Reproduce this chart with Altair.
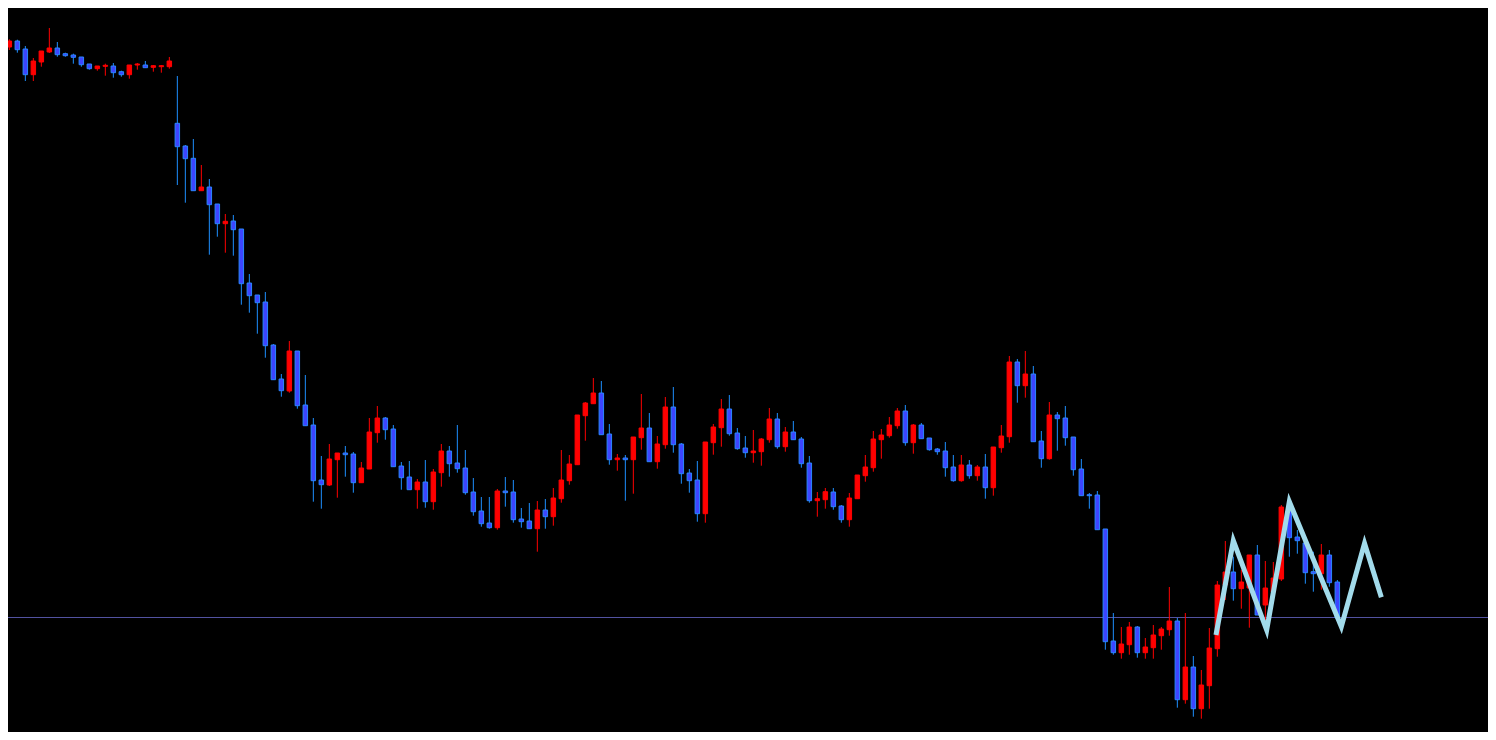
import altair as alt
import pandas as pd

# Candle data (price units)
opens = [706, 693, 699, 691, 665.3, 678, 688, 692, 686.3, 685, 683, 676, 671.3, 673.7, 674, 668.3, 665.3, 675, 675, 672.7,
         673.3, 673.3, 616.7, 594, 581.7, 549.3, 553, 536, 516.3, 519, 511, 457, 445, 438, 395, 361, 349, 389, 335, 315,
         260, 255, 280.3, 287, 286, 257.3, 271, 307.3, 322, 311, 274, 263, 250.3, 258, 238.3, 267.3, 289, 277, 272, 248,
         229, 217, 212.3, 249, 248, 221, 219, 211.3, 230, 223.3, 241.3, 259.3, 275.3, 324.3, 336.3, 347, 306, 280.3, 282, 280.3,
         302.3, 312, 278.3, 295.3, 333, 296, 267, 260, 226.3, 297.3, 312.3, 331, 307, 292, 287.3, 288.3, 300.3, 321, 293.3, 308,
         301, 277, 239.3, 240.3, 248, 234, 220.3, 241.3, 264.3, 272.3, 300.3, 304.3, 314.3, 329, 297.3, 315, 302, 291, 289, 273,
         259.3, 275, 264.3, 273, 252.3, 292.3, 303.3, 378, 354.3, 366, 299, 281.3, 325, 322, 303, 271, 245.3, 245, 211, 99,
         87.3, 95.3, 113, 87.3, 92.3, 104.3, 110.3, 119, 40.3, 73, 31.3, 54.3, 91.3, 155, 168, 151.3, 152, 185, 135, 148,
         161, 229, 203, 197, 168.3, 166.3, 185, 158]
highs = [708, 700.7, 700.3, 694, 682, 689, 712, 698, 687.3, 686.3, 683, 676, 674, 676.3, 677, 669.3, 675, 677, 679, 675,
         675, 683, 664, 595, 601, 575, 561, 536, 526, 525, 511, 466, 445, 448, 396, 366, 399, 389, 365, 322,
         284, 296, 287, 294, 288, 278, 322, 334, 323, 315, 278, 279, 261, 280, 271, 296, 294, 315, 290, 262,
         243, 243, 251, 263, 260, 232, 237, 239, 241, 252, 290, 285, 325, 338, 362, 359, 316, 286, 285, 303,
         346, 327, 304, 343, 353, 297, 271, 279, 298, 316, 341, 345, 312, 304, 310, 302, 332, 327, 313, 319,
         303, 284, 248, 252, 252, 235, 247, 265, 285, 309, 311, 323, 332, 335, 316, 317, 302, 292, 298, 285,
         285, 280, 275, 286, 293, 315, 384, 381, 389, 374, 309, 338, 328, 334, 303, 281, 247, 249, 211, 127,
         113, 118, 114, 102, 115, 113, 153, 122, 127, 84, 70, 112, 159, 199, 183.3, 170, 185, 195, 179, 178,
         235, 229, 210, 200, 188.3, 196, 190, 160]
lows = [690, 690, 687.3, 659, 659, 673.3, 687, 683.3, 683.3, 676.3, 673.3, 670.3, 669.3, 664.3, 662.3, 663.3, 661.3, 670.3, 672.3, 668.3,
        667.3, 671.3, 555, 537.3, 549.3, 549.3, 485.3, 503.3, 487.3, 484.3, 435.3, 427.3, 406.3, 382.3, 360.3, 343.3, 347.3, 331.3, 314.3, 238.3,
        231.3, 254, 242.3, 263.3, 247.3, 257.3, 271, 297.3, 300.3, 273.3, 250.3, 250.3, 231.3, 232.3, 230.3, 253.3, 263.3, 267.3, 245.3, 224.3,
        213.3, 211.3, 210.3, 233.3, 217.3, 212.3, 211.3, 188.3, 211.3, 214.3, 237.3, 255.3, 275.3, 299.3, 336.3, 305.3, 275.3, 269.3, 239.3, 246.3,
        290.3, 278.3, 271.3, 291.3, 287.3, 256.3, 247.3, 218.3, 217.3, 285.3, 293.3, 304.3, 290.3, 282.3, 277.3, 274.3, 297.3, 291.3, 288.3, 300.3,
        272.3, 237.3, 223.3, 231.3, 230.3, 217.3, 213.3, 241.3, 258.3, 268.3, 281.3, 302.3, 311.3, 294.3, 286.3, 301.3, 289.3, 285.3, 263.3, 258.3,
        258.3, 261.3, 259.3, 241.3, 244.3, 287.3, 297.3, 337.3, 342.3, 298.3, 272.3, 280.3, 289.3, 294.3, 264.3, 244.3, 231.3, 210.3, 90.3, 85.3,
        81.3, 85.3, 82.3, 81.3, 81.3, 90.3, 104.3, 32.3, 36.3, 23.3, 21.3, 31.3, 83.3, 140, 139.3, 131.3, 112.3, 125, 120, 145,
        159, 183.3, 186.3, 156.3, 148.3, 150.3, 153.3, 120]
closes = [693.3, 699, 690.3, 665.3, 679, 689, 692, 685.3, 684.3, 682.7, 675.3, 671.3, 674, 674.7, 667.3, 665.3, 675, 676, 672.3, 674.3,
          674.3, 679, 593.3, 581.3, 549.3, 553, 535.3, 516.3, 518.7, 510.3, 456.3, 444.3, 437.3, 394.3, 360.3, 349.3, 389, 334.3, 314.3, 259.3,
          255.3, 281, 287, 285.3, 257.3, 272, 308, 322, 310.3, 273.3, 262.3, 250.3, 258, 238.3, 268, 289, 276.3, 271.3, 247.3, 228.3,
          216.3, 212.3, 249, 247.3, 220.3, 218.3, 211.3, 230, 223.3, 242, 260, 276, 325, 337, 347, 305.3, 280.3, 282, 280.3, 303,
          312, 278.3, 296, 333, 295.3, 266.3, 259.3, 226.3, 298, 313, 331, 306.3, 291.3, 287.3, 289, 301, 321, 293.3, 308, 300.3,
          276.3, 239.3, 241.3, 248.3, 233.3, 220.3, 242, 265, 273, 301, 305, 315, 329, 297.3, 315, 301.3, 290.3, 288.3, 272.3, 259.3,
          275, 264.3, 273, 252.3, 293, 304, 378, 354.3, 366, 298.3, 281.3, 325, 321.3, 302.3, 270.3, 244.3, 244.3, 210.3, 98.3, 87.3,
          96, 113, 87.3, 93, 105, 111, 119, 40.3, 73, 31.3, 55, 92, 155, 168, 151.3, 158, 185, 125, 152, 162,
          233, 202.3, 199.3, 167.3, 166.3, 185, 157.3, 122]

# Horizontal price level
level = [122.5]

# Zigzag overlay points (bar index, price)
zz_x = [151.83, 154.0, 158.17, 161.0, 167.5, 170.4, 172.5]
zz_y = [105, 199.3, 110, 238.3, 113.3, 196.7, 142.7]

n = len(opens)
df = pd.DataFrame({"i": list(range(n)), "open": opens, "high": highs, "low": lows, "close": closes})
df["dir"] = ["down" if c < o else "up" for o, c in zip(opens, closes)]

zz = pd.DataFrame({"k": list(range(len(zz_x))), "x": zz_x, "y": zz_y})
lv = pd.DataFrame({"y": level})

xs = alt.Scale(domain=[0.833, 185.833], nice=False, zero=False)
ys = alt.Scale(domain=[8, 732], nice=False, zero=False)

wick_col = alt.Scale(domain=["down", "up"], range=["#1e90ff", "#ff0000"])
fill_col = alt.Scale(domain=["down", "up"], range=["#3d45ff", "#ff0000"])
stroke_col = alt.Scale(domain=["down", "up"], range=["#2a86ff", "#ff0000"])

base = alt.Chart(df)

hline = alt.Chart(lv).mark_rule(color="#5252a0", strokeWidth=1, clip=True).encode(
    y=alt.Y("y:Q", scale=ys, axis=None)
)

wicks = base.mark_rule(strokeWidth=1, clip=True).encode(
    x=alt.X("i:Q", scale=xs, axis=None),
    y=alt.Y("low:Q", scale=ys, axis=None),
    y2="high:Q",
    color=alt.Color("dir:N", scale=wick_col, legend=None),
)

bodies = base.transform_calculate(
    xa="datum.i - 0.28", xb="datum.i + 0.28"
).mark_rect(strokeWidth=1, clip=True).encode(
    x=alt.X("xa:Q", scale=xs, axis=None),
    x2="xb:Q",
    y=alt.Y("open:Q", scale=ys, axis=None),
    y2="close:Q",
    fill=alt.Fill("dir:N", scale=fill_col, legend=None),
    stroke=alt.Stroke("dir:N", scale=stroke_col, legend=None),
)

zigzag = alt.Chart(zz).mark_line(
    color="#a2dbeb", strokeWidth=5, strokeJoin="miter", strokeCap="butt", clip=True
).encode(
    x=alt.X("x:Q", scale=xs, axis=None),
    y=alt.Y("y:Q", scale=ys, axis=None),
    order="k:Q",
)

chart = alt.layer(hline, wicks, bodies, zigzag).properties(
    width=1480, height=724, background="#000000", padding=0
).configure_view(stroke=None)

chart.save("out.html", embed_options={"renderer": "svg", "actions": False})
